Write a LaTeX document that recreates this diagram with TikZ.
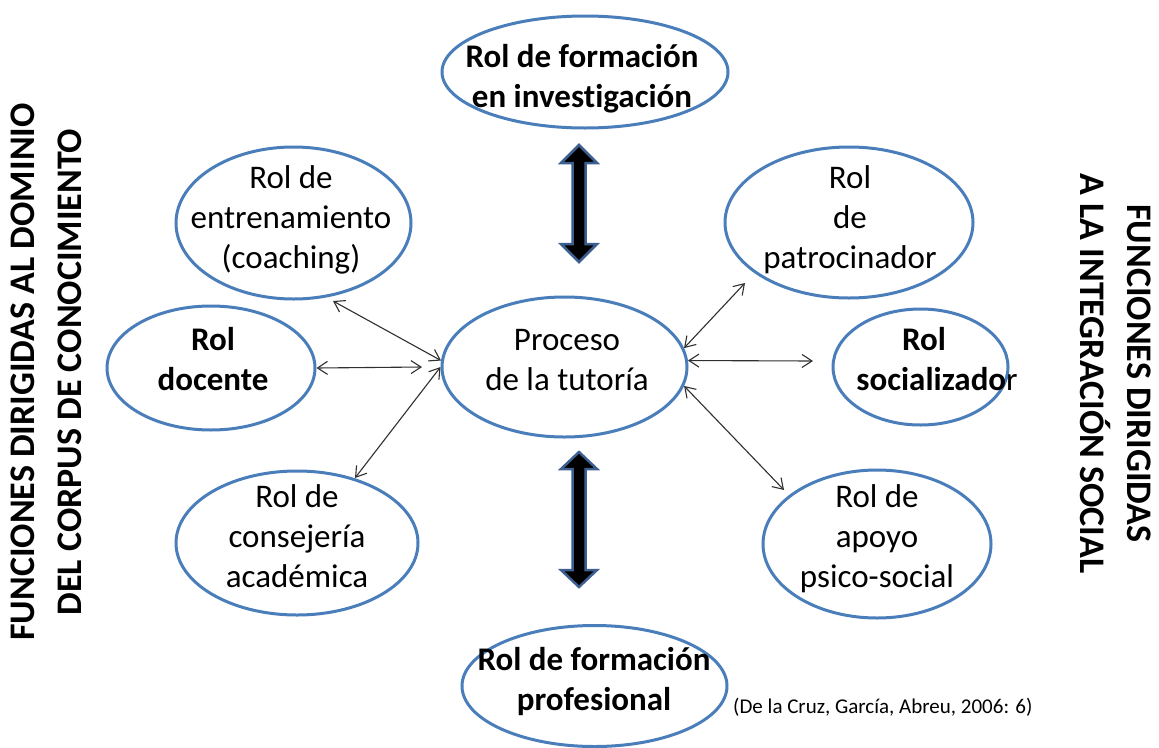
\documentclass[tikz,border=0pt]{standalone}
\usepackage{fontspec}
\setmainfont[Ligatures={NoCommon}]{Carlito}
\usetikzlibrary{arrows.meta,shapes.geometric}
\definecolor{ellblue}{HTML}{4A7EBB}
\definecolor{arrblue}{HTML}{3D5F8F}
\definecolor{thinline}{HTML}{303030}
\newcommand{\mlines}[1]{\begin{tabular}[t]{@{}c@{}}#1\end{tabular}}
\begin{document}
\begin{tikzpicture}[x=1pt,y=-1pt,
  ell/.style={ellipse, draw=ellblue, line width=3pt, fill=white, inner sep=0pt},
  txt/.style={anchor=base, inner sep=0pt, font=\fontsize{33}{40}\selectfont},
  btxt/.style={anchor=base, inner sep=0pt, font=\fontsize{33}{40}\selectfont\bfseries},
  side/.style={align=center, inner sep=0pt, font=\fontsize{36}{47}\selectfont\bfseries},
  link/.style={draw=thinline, line width=1.1pt,
    {Straight Barb[length=10pt,width=13pt]}-{Straight Barb[length=10pt,width=13pt]}},
  blockarrow/.style={fill=black, draw=arrblue, line width=2.5pt, line join=miter}]
\useasboundingbox[fill=white] (0,0) rectangle (1159,747);

% ellipses
\node[ell, minimum width=286pt, minimum height=112pt] (form) at (585,72) {};
\node[ell, minimum width=235pt, minimum height=152pt] (entr) at (293.5,223) {};
\node[ell, minimum width=248pt, minimum height=151pt] (patr) at (849,222.5) {};
\node[ell, minimum width=208pt, minimum height=124pt] (doc) at (211,368) {};
\node[ell, minimum width=245pt, minimum height=140pt] (proc) at (564.5,367) {};
\node[ell, minimum width=175pt, minimum height=116pt] (soc) at (920.5,367) {};
\node[ell, minimum width=242pt, minimum height=144pt] (cons) at (297,543) {};
\node[ell, minimum width=228pt, minimum height=148pt] (apoyo) at (877,544) {};
\node[ell, minimum width=265pt, minimum height=121pt] (prof) at (594.5,686) {};

% texts
\node[btxt] (form-t) at (582,67) {\mlines{Rol de formación\\en investigación}};
\node[txt] (entr-t) at (291,188) {\mlines{Rol de\\entrenamiento\\(coaching)}};
\node[txt] (patr-t) at (850,188) {\mlines{Rol\\de\\patrocinador}};
\node[btxt] (doc-t) at (213,350) {\mlines{Rol\\docente}};
\node[txt] (proc-t) at (567,350) {\mlines{Proceso\\de la tutoría}};
\node[txt] (soc-t) at (937,350) {\mlines{\hspace*{-26pt}\bfseries Rol\\{\bfseries socializado}r}};
\node[txt] (cons-t) at (297,507) {\mlines{Rol de\\consejería\\académica}};
\node[txt] (apoyo-t) at (877,507) {\mlines{Rol de\\apoyo\\psico-social}};
\node[btxt] (prof-t) at (594,670) {\mlines{Rol de formación\\profesional}};

\node[anchor=base west, inner sep=0pt, font=\fontsize{21}{25}\selectfont] (cite) at (733,713)
  {(De la Cruz, García, Abreu, 2006: 6)};

% side titles
\node[side, rotate=90] (left-t) at (46.5,372) {FUNCIONES DIRIGIDAS AL DOMINIO\\DEL CORPUS DE CONOCIMIENTO};
\node[side, rotate=-90] (right-t) at (1115.5,373.5) {FUNCIONES DIRIGIDAS\\A LA INTEGRACIÓN SOCIAL};

% free ends of the thin connectors
\coordinate (entr-e) at (333,301);
\coordinate (doc-e) at (422,367);
\coordinate (cons-e) at (355,478);
\coordinate (patr-e) at (745,283);
\coordinate (soc-e) at (813,361);
\coordinate (apoyo-e) at (784,490);

\draw[link] (entr-e) -- (proc.177);
\draw[link] (doc.east) -- (doc-e);
\draw[link] (cons-e) -- (proc.west);
\draw[link] (patr-e) -- (proc.9);
\draw[link] (proc.3) -- (soc-e);
\draw[link] (proc.-9) -- (apoyo-e);

% thick double arrows
\coordinate (up-tip) at (579,145);
\coordinate (dn-tip) at (579,452);
\path[blockarrow] (up-tip) -- ++(18,18) -- ++(-11.5,0) -- ++(0,81) -- ++(11.5,0) -- ++(-18,18)
  -- ++(-18,-18) -- ++(11.5,0) -- ++(0,-81) -- ++(-11.5,0) -- cycle;
\path[blockarrow] (dn-tip) -- ++(18,17) -- ++(-11.5,0) -- ++(0,101) -- ++(11.5,0) -- ++(-18,17)
  -- ++(-18,-17) -- ++(11.5,0) -- ++(0,-101) -- ++(-11.5,0) -- cycle;
\end{tikzpicture}
\end{document}
